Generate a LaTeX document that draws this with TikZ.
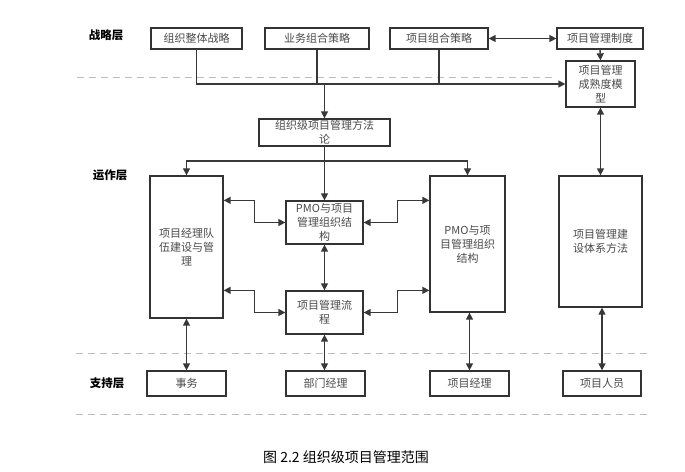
\documentclass[tikz,border=0pt]{standalone}
\usepackage{fontspec}
\setmainfont{Noto Sans CJK SC}
\usetikzlibrary{arrows.meta}
\definecolor{boxc}{HTML}{333333}
\definecolor{txtc}{HTML}{4A4A4A}
\definecolor{linec}{HTML}{383838}
\definecolor{dashc}{HTML}{BDBDBD}
\begin{document}
\begin{tikzpicture}[x=1pt,y=-1pt,
  box/.style={draw=boxc, line width=1.3pt, fill=white, text=txtc, align=center, inner sep=0pt,
    font=\fontsize{11}{14}\selectfont},
  conn/.style={draw=linec, line width=1.4pt},
  arr/.style={conn, -{Triangle[length=7pt,width=7pt]}},
  darr/.style={conn, {Triangle[length=7pt,width=7pt]}-{Triangle[length=7pt,width=7pt]}},
  layer/.style={font=\fontsize{11.5}{14}\selectfont\bfseries, text=black},
  sep/.style={draw=dashc, line width=0.8pt, dash pattern=on 7pt off 5pt}
]
\useasboundingbox (0,0) rectangle (685,471);

% layer labels
\node[layer] (l1) at (106,35) {战略层};
\node[layer] (l2) at (110,175) {运作层};
\node[layer] (l3) at (107,383) {支持层};

% dashed separators
\coordinate (d1a) at (77,77);  \coordinate (d1b) at (557,77);
\coordinate (d2a) at (76,353); \coordinate (d2b) at (652,353);
\coordinate (d3a) at (76,414); \coordinate (d3b) at (652,414);
\draw[sep] (d1a) -- (d1b);
\draw[sep] (d2a) -- (d2b);
\draw[sep] (d3a) -- (d3b);

% strategy layer
\node[box, minimum width=91pt, minimum height=21pt] (s1) at (196.5,38.5) {组织整体战略};
\node[box, minimum width=104pt, minimum height=21pt] (s2) at (317,38.5) {业务组合策略};
\node[box, minimum width=98pt, minimum height=21pt] (s3) at (439,38.5) {项目组合策略};
\node[box, minimum width=86pt, minimum height=21pt] (s4) at (600,38.5) {项目管理制度};
\node[box, minimum width=69pt, minimum height=46pt] (m) at (600.5,84) {项目管理\\成熟度模\\型};

% operation layer
\node[box, minimum width=131pt, minimum height=27pt] (f) at (324.5,132.5) {组织级项目管理方法\\论};
\node[box, minimum width=73pt, minimum height=142pt] (L) at (186.5,247) {项目经理队\\伍建设与管\\理};
\node[box, minimum width=77pt, minimum height=43pt] (P) at (324.5,222.5) {PMO与项目\\管理组织结\\构};
\node[box, minimum width=77pt, minimum height=43pt] (F) at (324.5,312.5) {项目管理流\\程};
\node[box, minimum width=75pt, minimum height=136pt] (R) at (467.5,244) {PMO与项\\目管理组织\\结构};
\node[box, minimum width=83pt, minimum height=131pt] (T) at (600.5,241.5) {项目管理建\\设体系方法};

% support layer
\node[box, minimum width=79pt, minimum height=25pt] (b1) at (186.5,383.5) {事务};
\node[box, minimum width=79pt, minimum height=25pt] (b2) at (325.5,383.5) {部门经理};
\node[box, minimum width=79pt, minimum height=25pt] (b3) at (469.5,383.5) {项目经理};
\node[box, minimum width=78pt, minimum height=25pt] (b4) at (602,383.5) {项目人员};

% strategy connectors
\coordinate (j) at (324.5,84);
\draw[arr] (s1.south) |- (m.west);
\draw[conn] (s2.south) -- (s2.south |- m.west);
\draw[conn] (s3.south) -- (s3.south |- m.west);
\draw[arr] (j) -- (f.north);
\draw[darr] (s3.east) -- (s4.west);
\draw[arr] (s4.south) -- (m.north);
\draw[darr] (m.south) -- (T.north);

% methodology connectors
\coordinate (k) at (324.5,161);
\draw[arr] (f.south) -- (P.north);
\draw[arr, line width=1.1pt] (k) -| (L.north);
\draw[arr, line width=1.1pt] (k) -| (R.north);

% operation connectors
\draw[darr] (L.east |- P.north) -- ++(31,0) |- (P.west);
\draw[darr] (L.east |- F.north) -- ++(31,0) |- (F.west);
\draw[darr] (P.east) -- ++(34,0) |- (R.west |- P.north);
\draw[darr] (F.east) -- ++(34,0) |- (R.west |- F.north);
\draw[darr] (P.south) -- (F.north);

% support connectors
\draw[darr] (L.south) -- (b1.north);
\draw[darr] (F.south) -- (F.south |- b2.north);
\draw[darr] (b3.north |- R.south) -- (b3.north);
\draw[darr] (b4.north |- T.south) -- (b4.north);

% caption
\node[font=\fontsize{14}{16}\selectfont, text=black] (cap) at (346,457) {图 2.2 组织级项目管理范围};
\end{tikzpicture}
\end{document}
